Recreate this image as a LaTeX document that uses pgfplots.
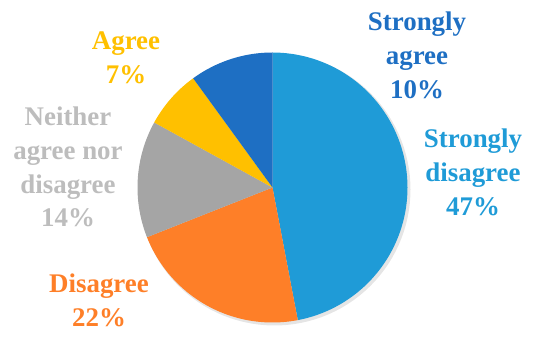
\documentclass[border=0pt]{standalone}
\usepackage{fontspec}
\setmainfont{Liberation Serif}
\usepackage{pgfplots}
\pgfplotsset{compat=1.18}
\usepackage{pgfplotstable}
\definecolor{cLB}{HTML}{1F9BD7}
\definecolor{cDB}{HTML}{1E6FC3}
\definecolor{cOR}{HTML}{FE7F28}
\definecolor{cGR}{HTML}{A5A5A5}
\definecolor{cYE}{HTML}{FFC000}
\definecolor{cGRt}{HTML}{BDBDBD}
% pct, start angle, end angle (slices run clockwise from the top)
\pgfplotstableread{
name pct start end
SD   47  -79.2  90
D    22  -158.4 -79.2
N    14  -208.8 -158.4
A    7   -234.0 -208.8
SA   10  -270.0 -234.0
}\pietable
\begin{document}
\begin{tikzpicture}
\begin{axis}[
  width=550bp, height=349bp, scale only axis,
  xmin=0, xmax=550, ymin=0, ymax=349,
  hide axis, clip=false,
]
\path (axis cs:0,0) rectangle (axis cs:550,349);
% soft shadow
\addplot[fill=black, fill opacity=0.10, draw=none, domain=0:360, samples=120, variable=\t]
  ({274.5+136*cos(\t)},{159.5+136*sin(\t)}) -- cycle;
\addplot[fill=cLB, draw=none, domain=-79.2:90, samples=80, variable=\t]
  ({272.5+135*cos(\t)},{161.5+135*sin(\t)}) -- (axis cs:272.5,161.5) -- cycle;
\addplot[fill=cOR, draw=none, domain=-158.4:-79.2, samples=50, variable=\t]
  ({272.5+135*cos(\t)},{161.5+135*sin(\t)}) -- (axis cs:272.5,161.5) -- cycle;
\addplot[fill=cGR, draw=none, domain=-208.8:-158.4, samples=40, variable=\t]
  ({272.5+135*cos(\t)},{161.5+135*sin(\t)}) -- (axis cs:272.5,161.5) -- cycle;
\addplot[fill=cYE, draw=none, domain=-234.0:-208.8, samples=30, variable=\t]
  ({272.5+135*cos(\t)},{161.5+135*sin(\t)}) -- (axis cs:272.5,161.5) -- cycle;
\addplot[fill=cDB, draw=none, domain=-270.0:-234.0, samples=30, variable=\t]
  ({272.5+135*cos(\t)},{161.5+135*sin(\t)}) -- (axis cs:272.5,161.5) -- cycle;

\tikzset{lab/.style={align=center, font=\bfseries\fontsize{27}{34}\selectfont, inner sep=0pt}}
\node[lab, text=cDB] at (axis cs:417,294) {Strongly\\agree\\10\%};
\node[lab, text=cLB] at (axis cs:473,177) {Strongly\\disagree\\47\%};
\node[lab, text=cOR] at (axis cs:99,49) {Disagree\\22\%};
\node[lab, text=cGRt] at (axis cs:68,182) {Neither\\agree nor\\disagree\\14\%};
\node[lab, text=cYE] at (axis cs:126,291) {Agree\\7\%};
\end{axis}
\end{tikzpicture}
\end{document}
